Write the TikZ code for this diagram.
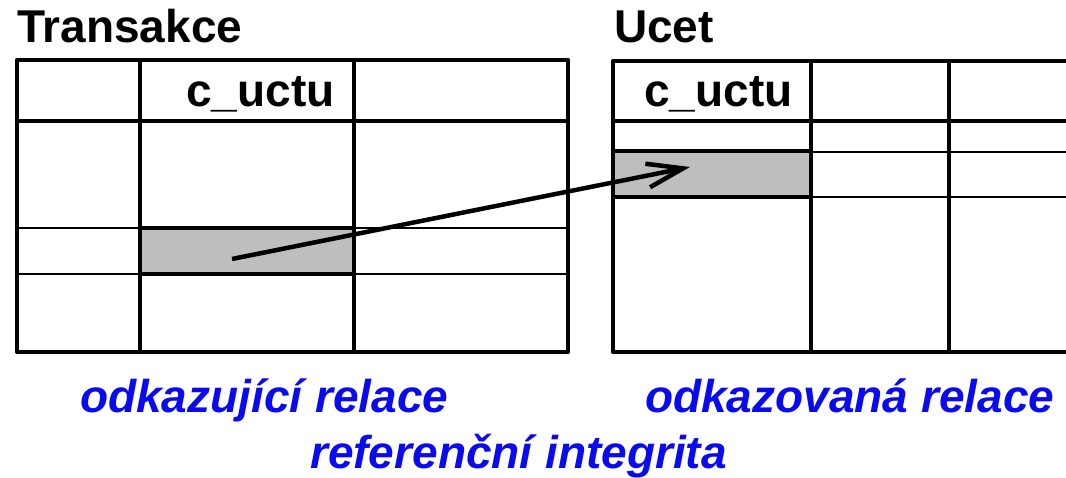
\documentclass[tikz,border=0pt]{standalone}
\usepackage{fontspec}
\setmainfont{Liberation Sans}
\usetikzlibrary{arrows.meta,calc}
\definecolor{relblue}{RGB}{10,10,240}
\definecolor{cellgray}{RGB}{190,190,190}
\tikzset{
  thickline/.style={line width=4.5pt},
  thinline/.style={line width=2.5pt},
  shadedcell/.style={draw, line width=4.5pt, fill=cellgray, inner sep=0pt},
  title/.style={anchor=base west, inner sep=0pt, font=\fontsize{46}{52}\selectfont\bfseries},
  colname/.style={anchor=base west, inner sep=0pt, font=\fontsize{46}{52}\selectfont\bfseries},
  caption/.style={anchor=base west, inner sep=0pt, text=relblue, font=\fontsize{46}{52}\selectfont\bfseries\itshape},
  refarrow/.style={line width=4.5pt, -{Straight Barb[length=36pt,width=24pt,line width=4.5pt]}}
}
\begin{document}
\begin{tikzpicture}[x=1pt,y=-1pt]
\useasboundingbox (0,0) rectangle (1066,478);
\begin{scope}
\clip (0,0) rectangle (1066,478);
% ---- left table: Transakce ----
\draw[thinline] (17,228) -- (568,228);
\draw[thinline] (17,274) -- (568,274);
\draw[thickline] (17,121) -- (568,121);
\draw[thickline] (140,60) -- (140,352);
\draw[thickline] (354,60) -- (354,352);
\draw[thickline, line join=round] (17,60) rectangle (568,352);
\node[shadedcell, minimum width=214pt, minimum height=46pt] (fkcell) at (247,251) {};
% ---- right table: Ucet ----
\draw[thinline] (811,152) -- (1080,152);
\draw[thinline] (811,197) -- (1080,197);
\draw[thickline] (613,121) -- (1080,121);
\draw[thickline] (811,61) -- (811,352);
\draw[thickline] (949,61) -- (949,352);
\draw[thickline, line join=round] (1080,61) -- (613,61) -- (613,352) -- (1080,352);
\node[shadedcell, minimum width=198pt, minimum height=46pt] (pkcell) at (712,174) {};
\end{scope}
% ---- texts ----
\node[title] (t1) at (17,43) {Transakce};
\node[title] (t2) at (614,43) {Ucet};
\node[colname] (c1) at (186,107) {c\_uctu};
\node[colname] (c2) at (644,107) {c\_uctu};
\node[caption] (cap1) at (80,412) {odkazující relace};
\node[caption] (cap2) at (645,412) {odkazovaná relace};
\node[caption] (cap3) at (310,468) {referenční integrita};
% ---- reference arrow ----
\coordinate (src) at ($(fkcell.center)+(-15,8)$);
\coordinate (dst) at ($(pkcell.center)+(-22,-7)$);
\draw[refarrow] (src) -- (dst);
\end{tikzpicture}
\end{document}
